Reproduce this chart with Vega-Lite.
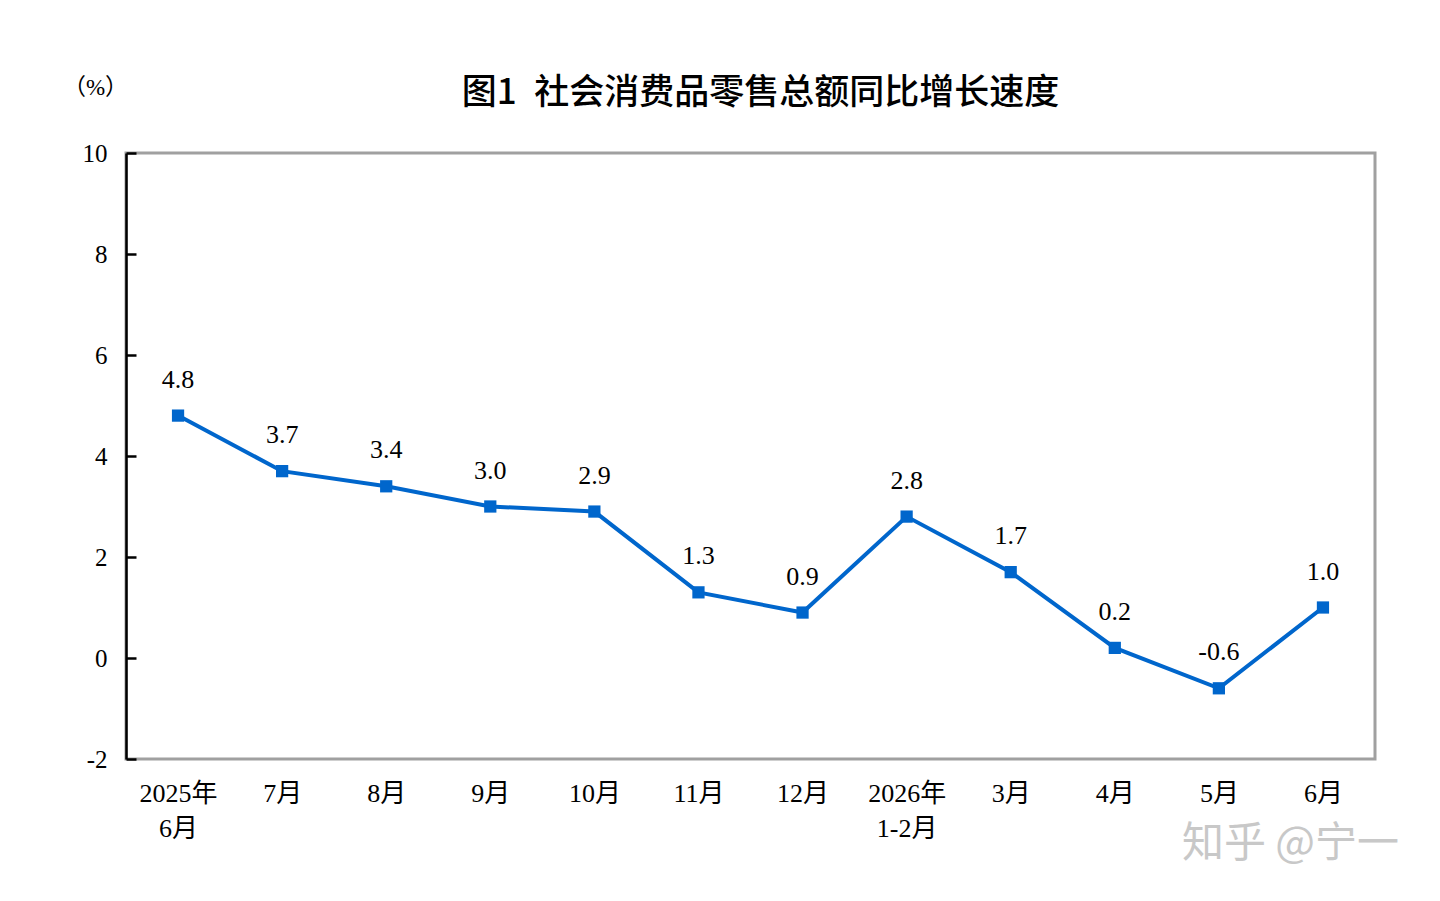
{
  "$schema": "https://vega.github.io/schema/vega-lite/v6.json",
  "width": 1249,
  "height": 606,
  "autosize": {"type": "none"},
  "padding": {"left": 126, "top": 153, "right": 65, "bottom": 142},
  "background": "white",
  "config": {
    "view": {"stroke": "#a0a0a0", "strokeWidth": 3},
    "font": "Liberation Serif",
    "locale": {
      "number": {"decimal": ".", "thousands": ",", "grouping": [3], "currency": ["$", ""], "minus": "-"}
    }
  },
  "title": {
    "text": "图1\u2002社会消费品零售总额同比增长速度",
    "font": "Noto Sans CJK SC",
    "fontWeight": 500,
    "fontSize": 35,
    "color": "#000000",
    "anchor": "middle",
    "offset": 42,
    "dy": 77,
    "dx": 10
  },
  "data": {
    "values": [
      {"month": "2025年|6月", "value": 4.8},
      {"month": "7月", "value": 3.7},
      {"month": "8月", "value": 3.4},
      {"month": "9月", "value": 3.0},
      {"month": "10月", "value": 2.9},
      {"month": "11月", "value": 1.3},
      {"month": "12月", "value": 0.9},
      {"month": "2026年|1-2月", "value": 2.8},
      {"month": "3月", "value": 1.7},
      {"month": "4月", "value": 0.2},
      {"month": "5月", "value": -0.6},
      {"month": "6月", "value": 1.0}
    ]
  },
  "encoding": {
    "x": {
      "field": "month",
      "type": "ordinal",
      "sort": null,
      "scale": {"type": "point", "padding": 0.5},
      "axis": {
        "title": "知乎 @宁一",
        "titleFont": "Noto Sans CJK SC",
        "titleFontSize": 42,
        "titleFontWeight": "normal",
        "titleColor": "#c8c8c8",
        "titleX": 1164,
        "titleY": 84,
        "titleAlign": "center",
        "titleBaseline": "middle",
        "labelAngle": 0,
        "labelExpr": "split(datum.label, '|')",
        "labelFont": "Liberation Serif, Noto Sans CJK SC",
        "labelFontSize": 26,
        "labelLineHeight": 35,
        "labelColor": "#000000",
        "labelPadding": 21,
        "labelBaseline": "top",
        "ticks": false,
        "domain": false,
        "grid": false
      }
    },
    "y": {
      "field": "value",
      "type": "quantitative",
      "scale": {"domain": [-2, 10], "nice": false, "zero": false},
      "axis": {
        "values": [-2, 0, 2, 4, 6, 8, 10],
        "format": "d",
        "title": "（%）",
        "titleFont": "Liberation Serif, Noto Sans CJK SC",
        "titleFontSize": 23,
        "titleFontWeight": "normal",
        "titleColor": "#000000",
        "titleAngle": 0,
        "titleX": -31,
        "titleY": -66,
        "titleAlign": "center",
        "titleBaseline": "middle",
        "labelFont": "Liberation Serif",
        "labelFontSize": 25,
        "labelColor": "#000000",
        "labelPadding": 29,
        "tickSize": -10,
        "tickColor": "#000000",
        "tickWidth": 2.5,
        "domainColor": "#000000",
        "domainWidth": 2.5,
        "grid": false
      }
    }
  },
  "layer": [
    {"mark": {"type": "line", "color": "#0066cc", "strokeWidth": 4}},
    {"mark": {"type": "point", "shape": "square", "filled": true, "size": 150, "color": "#0066cc", "opacity": 1}},
    {
      "mark": {"type": "text", "dy": -36, "fontSize": 26, "font": "Liberation Serif", "color": "#000000"},
      "encoding": {"text": {"field": "value", "type": "quantitative", "format": ".1f"}}
    }
  ]
}
